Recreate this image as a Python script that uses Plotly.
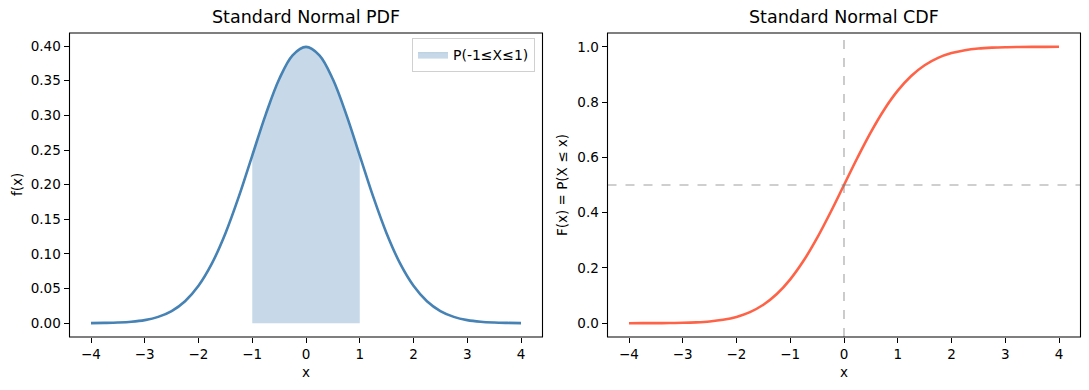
import plotly.graph_objects as go

x_vals = [-4.0, -3.75, -3.5, -3.25, -3.0, -2.75, -2.5, -2.25, -2.0, -1.75, -1.5, -1.25,
          -1.0, -0.75, -0.5, -0.25, 0.0, 0.25, 0.5, 0.75, 1.0, 1.25, 1.5, 1.75,
          2.0, 2.25, 2.5, 2.75, 3.0, 3.25, 3.5, 3.75, 4.0]
pdf_vals = [0.0001, 0.0004, 0.0009, 0.0020, 0.0044, 0.0091, 0.0175, 0.0317, 0.0540, 0.0863,
            0.1295, 0.1826, 0.2420, 0.3011, 0.3521, 0.3867, 0.3989, 0.3867, 0.3521, 0.3011,
            0.2420, 0.1826, 0.1295, 0.0863, 0.0540, 0.0317, 0.0175, 0.0091, 0.0044, 0.0020,
            0.0009, 0.0004, 0.0001]
cdf_vals = [0.0000, 0.0001, 0.0002, 0.0006, 0.0013, 0.0030, 0.0062, 0.0122, 0.0228, 0.0401,
            0.0668, 0.1056, 0.1587, 0.2266, 0.3085, 0.4013, 0.5000, 0.5987, 0.6915, 0.7734,
            0.8413, 0.8944, 0.9332, 0.9599, 0.9772, 0.9878, 0.9938, 0.9970, 0.9987, 0.9994,
            0.9998, 0.9999, 1.0000]
shade_lo, shade_hi = -1.0, 1.0
x_ticks = [-4, -3, -2, -1, 0, 1, 2, 3, 4]
x_tick_labels = ["\u22124", "\u22123", "\u22122", "\u22121", "0", "1", "2", "3", "4"]
pdf_ticks = [0.0, 0.05, 0.10, 0.15, 0.20, 0.25, 0.30, 0.35, 0.40]
cdf_ticks = [0.0, 0.2, 0.4, 0.6, 0.8, 1.0]

W, H = 1089, 390
FONT = "DejaVu Sans"
TICK_SIZE = 13.5

def px_x(p):
    return p / W

def px_y(p):
    return 1 - p / H

shade_x = [x for x in x_vals if shade_lo <= x <= shade_hi]
shade_y = [y for x, y in zip(x_vals, pdf_vals) if shade_lo <= x <= shade_hi]

fig = go.Figure()

fig.add_trace(go.Scatter(
    x=shade_x, y=shade_y, fill="tozeroy", mode="lines",
    line=dict(color="rgba(70,130,180,0.3)", width=1, shape="spline"),
    fillcolor="rgba(70,130,180,0.3)", name="P(-1\u2264X\u22641)",
    xaxis="x", yaxis="y", showlegend=True))
fig.add_trace(go.Scatter(
    x=x_vals, y=pdf_vals, mode="lines",
    line=dict(color="#4682B4", width=2.6, shape="spline"),
    xaxis="x", yaxis="y", showlegend=False))
fig.add_trace(go.Scatter(
    x=x_vals, y=cdf_vals, mode="lines",
    line=dict(color="#FF6347", width=2.6, shape="spline"),
    xaxis="x2", yaxis="y2", showlegend=False))

axis_common = dict(
    showline=False,
    ticks="outside", ticklen=5, tickwidth=1.1, tickcolor="black",
    showgrid=False, zeroline=False, automargin=False,
    tickfont=dict(family=FONT, size=TICK_SIZE, color="black"),
)

L1 = [69.5, 542.5]
L2 = [607.5, 1080.5]
TOP, BOT = 33, 337
y_dom = [px_y(BOT), px_y(TOP)]
frame = dict(color="black", width=1.1)
fig.update_layout(
    width=W, height=H,
    margin=dict(l=0, r=0, t=0, b=0),
    paper_bgcolor="white", plot_bgcolor="white",
    font=dict(family=FONT, color="black"),
    xaxis=dict(domain=[px_x(L1[0]), px_x(L1[1])], range=[-4.4, 4.4],
               tickvals=x_ticks, ticktext=x_tick_labels, anchor="y", **axis_common),
    yaxis=dict(domain=y_dom, range=[-0.01995, 0.41889], tickvals=pdf_ticks,
               tickformat=".2f", anchor="x", **axis_common),
    xaxis2=dict(domain=[px_x(L2[0]), px_x(L2[1])], range=[-4.4, 4.4],
                tickvals=x_ticks, ticktext=x_tick_labels, anchor="y2", **axis_common),
    yaxis2=dict(domain=y_dom, range=[-0.05, 1.05], tickvals=cdf_ticks,
                tickformat=".1f", anchor="x2", **axis_common),
    legend=dict(x=px_x(535), y=px_y(38), xanchor="right", yanchor="top",
                bgcolor="white", bordercolor="#d0d0d0", borderwidth=1,
                font=dict(family=FONT, size=14, color="black"),
                itemwidth=30, tracegroupgap=0),
    shapes=[
        dict(type="line", xref="x2", yref="paper", x0=0, x1=0, y0=y_dom[0], y1=y_dom[1],
             line=dict(color="rgba(128,128,128,0.5)", width=1.6, dash="dash")),
        dict(type="line", xref="paper", yref="y2", x0=px_x(L2[0]), x1=px_x(L2[1]), y0=0.5, y1=0.5,
             line=dict(color="rgba(128,128,128,0.5)", width=1.6, dash="dash")),
        dict(type="rect", xref="paper", yref="paper", x0=px_x(L1[0]), x1=px_x(L1[1]),
             y0=y_dom[0], y1=y_dom[1], line=frame, fillcolor="rgba(0,0,0,0)", layer="above"),
        dict(type="rect", xref="paper", yref="paper", x0=px_x(L2[0]), x1=px_x(L2[1]),
             y0=y_dom[0], y1=y_dom[1], line=frame, fillcolor="rgba(0,0,0,0)", layer="above"),
    ],
    annotations=[
        dict(text="Standard Normal PDF", x=px_x(306), y=px_y(17), xref="paper", yref="paper",
             showarrow=False, xanchor="center", yanchor="middle", font=dict(size=17.5, family=FONT)),
        dict(text="Standard Normal CDF", x=px_x(844), y=px_y(17), xref="paper", yref="paper",
             showarrow=False, xanchor="center", yanchor="middle", font=dict(size=17.5, family=FONT)),
        dict(text="x", x=px_x(306), y=px_y(372), xref="paper", yref="paper",
             showarrow=False, xanchor="center", yanchor="middle", font=dict(size=TICK_SIZE, family=FONT)),
        dict(text="x", x=px_x(844), y=px_y(372), xref="paper", yref="paper",
             showarrow=False, xanchor="center", yanchor="middle", font=dict(size=TICK_SIZE, family=FONT)),
        dict(text="f(x)", x=px_x(17), y=px_y(185), xref="paper", yref="paper", textangle=-90,
             showarrow=False, xanchor="center", yanchor="middle", font=dict(size=TICK_SIZE, family=FONT)),
        dict(text="F(x) = P(X \u2264 x)", x=px_x(562), y=px_y(185), xref="paper", yref="paper",
             textangle=-90, showarrow=False, xanchor="center", yanchor="middle",
             font=dict(size=TICK_SIZE, family=FONT)),
    ],
)

fig.write_html("out.html", config={"displayModeBar": False},
               post_script="document.body.style.margin='0';document.body.style.overflow='hidden';")
